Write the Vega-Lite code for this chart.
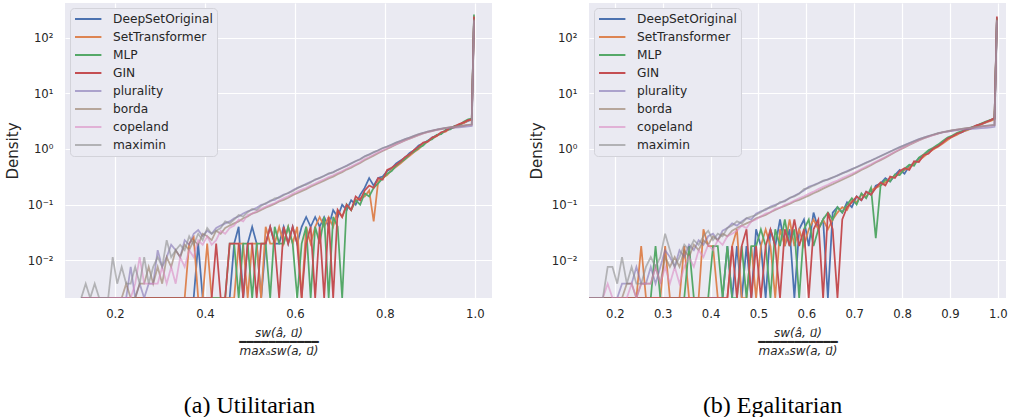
{
"$schema": "https://vega.github.io/schema/vega-lite/v6.json",
"padding": {"left": 5, "top": 3, "right": 0, "bottom": 0},
"spacing": 37,
"datasets": {
"util": [
{"x":0.125,"D":0,"S":0,"M":0,"G":0,"p":0,"b":0,"c":0,"m":0},
{"x":0.135,"D":0,"S":0,"M":0,"G":0,"p":0,"b":0,"c":0,"m":0.0038},
{"x":0.145,"D":0,"S":0,"M":0,"G":0,"p":0,"b":0,"c":0,"m":0},
{"x":0.155,"D":0,"S":0,"M":0,"G":0,"p":0,"b":0,"c":0,"m":0.0038},
{"x":0.165,"D":0,"S":0,"M":0,"G":0,"p":0,"b":0,"c":0,"m":0},
{"x":0.175,"D":0,"S":0,"M":0,"G":0,"p":0,"b":0,"c":0,"m":0},
{"x":0.185,"D":0,"S":0,"M":0,"G":0,"p":0,"b":0,"c":0,"m":0},
{"x":0.195,"D":0,"S":0,"M":0,"G":0,"p":0,"b":0,"c":0,"m":0.0114},
{"x":0.205,"D":0,"S":0,"M":0,"G":0,"p":0,"b":0,"c":0,"m":0.0038},
{"x":0.215,"D":0,"S":0,"M":0,"G":0,"p":0,"b":0,"c":0,"m":0.0076},
{"x":0.225,"D":0,"S":0,"M":0,"G":0,"p":0,"b":0.0038,"c":0,"m":0.0038},
{"x":0.235,"D":0,"S":0,"M":0,"G":0,"p":0.0076,"b":0,"c":0,"m":0.0038},
{"x":0.245,"D":0,"S":0,"M":0,"G":0,"p":0,"b":0,"c":0.0038,"m":0.0076},
{"x":0.255,"D":0,"S":0,"M":0,"G":0,"p":0.0038,"b":0.0038,"c":0.0114,"m":0.0038},
{"x":0.265,"D":0,"S":0,"M":0,"G":0,"p":0,"b":0.0038,"c":0.0038,"m":0.0114},
{"x":0.275,"D":0,"S":0,"M":0,"G":0,"p":0.0038,"b":0.0076,"c":0.0038,"m":0.0038},
{"x":0.285,"D":0,"S":0,"M":0,"G":0,"p":0.0038,"b":0.0038,"c":0.0038,"m":0.0076},
{"x":0.295,"D":0,"S":0,"M":0,"G":0,"p":0.0152,"b":0.0076,"c":0.0038,"m":0.0114},
{"x":0.305,"D":0,"S":0,"M":0,"G":0,"p":0.0076,"b":0.0038,"c":0.0076,"m":0.0076},
{"x":0.315,"D":0,"S":0,"M":0,"G":0,"p":0.0114,"b":0.0114,"c":0.0038,"m":0.023},
{"x":0.325,"D":0,"S":0,"M":0,"G":0,"p":0.019,"b":0.0076,"c":0.0076,"m":0.0114},
{"x":0.335,"D":0,"S":0,"M":0,"G":0,"p":0.0152,"b":0.0152,"c":0.0038,"m":0.0152},
{"x":0.345,"D":0,"S":0,"M":0,"G":0,"p":0.0114,"b":0.0114,"c":0.0114,"m":0.019},
{"x":0.355,"D":0,"S":0,"M":0,"G":0,"p":0.023,"b":0.019,"c":0.0076,"m":0.0152},
{"x":0.365,"D":0,"S":0.02,"M":0,"G":0,"p":0.019,"b":0.0152,"c":0.0152,"m":0.027},
{"x":0.375,"D":0,"S":0.026,"M":0,"G":0,"p":0.03,"b":0.023,"c":0.0114,"m":0.019},
{"x":0.385,"D":0.02,"S":0,"M":0,"G":0,"p":0.035,"b":0.019,"c":0.023,"m":0.03},
{"x":0.395,"D":0,"S":0,"M":0,"G":0,"p":0.027,"b":0.03,"c":0.019,"m":0.023},
{"x":0.405,"D":0,"S":0.02,"M":0,"G":0,"p":0.034,"b":0.027,"c":0.027,"m":0.038},
{"x":0.415,"D":0,"S":0,"M":0,"G":0,"p":0.03,"b":0.023,"c":0.019,"m":0.03},
{"x":0.425,"D":0,"S":0,"M":0,"G":0.02,"p":0.038,"b":0.034,"c":0.023,"m":0.034},
{"x":0.435,"D":0,"S":0,"M":0,"G":0,"p":0.042,"b":0.03,"c":0.034,"m":0.038},
{"x":0.445,"D":0,"S":0,"M":0,"G":0,"p":0.046,"b":0.038,"c":0.03,"m":0.05},
{"x":0.455,"D":0,"S":0,"M":0.02,"G":0.02,"p":0.05,"b":0.042,"c":0.038,"m":0.046},
{"x":0.465,"D":0.02,"S":0,"M":0.02,"G":0.02,"p":0.057,"b":0.046,"c":0.042,"m":0.054},
{"x":0.475,"D":0.04,"S":0.02,"M":0,"G":0.02,"p":0.061,"b":0.05,"c":0.054,"m":0.065},
{"x":0.485,"D":0,"S":0.02,"M":0.02,"G":0,"p":0.069,"b":0.057,"c":0.05,"m":0.061},
{"x":0.495,"D":0.02,"S":0,"M":0.02,"G":0.02,"p":0.076,"b":0.061,"c":0.065,"m":0.073},
{"x":0.505,"D":0.04,"S":0.02,"M":0,"G":0.02,"p":0.08,"b":0.069,"c":0.069,"m":0.084},
{"x":0.515,"D":0.02,"S":0.02,"M":0.02,"G":0,"p":0.088,"b":0.073,"c":0.076,"m":0.08},
{"x":0.525,"D":0,"S":0,"M":0.02,"G":0.02,"p":0.099,"b":0.08,"c":0.084,"m":0.095},
{"x":0.535,"D":0.02,"S":0.04,"M":0.02,"G":0.02,"p":0.103,"b":0.088,"c":0.092,"m":0.107},
{"x":0.545,"D":0.04,"S":0.02,"M":0,"G":0.04,"p":0.118,"b":0.095,"c":0.099,"m":0.114},
{"x":0.555,"D":0.02,"S":0.02,"M":0.04,"G":0.02,"p":0.122,"b":0.103,"c":0.107,"m":0.13},
{"x":0.565,"D":0.02,"S":0.04,"M":0.02,"G":0,"p":0.137,"b":0.114,"c":0.118,"m":0.133},
{"x":0.575,"D":0.04,"S":0.02,"M":0.02,"G":0.04,"p":0.152,"b":0.122,"c":0.13,"m":0.148},
{"x":0.585,"D":0.02,"S":0.04,"M":0.04,"G":0.02,"p":0.16,"b":0.133,"c":0.141,"m":0.163},
{"x":0.595,"D":0.04,"S":0.02,"M":0.02,"G":0.04,"p":0.182,"b":0.148,"c":0.156,"m":0.175},
{"x":0.605,"D":0.02,"S":0.04,"M":0,"G":0.02,"p":0.2,"b":0.16,"c":0.171,"m":0.194},
{"x":0.615,"D":0.04,"S":0,"M":0.02,"G":0,"p":0.213,"b":0.175,"c":0.186,"m":0.217},
{"x":0.625,"D":0.06,"S":0.04,"M":0.04,"G":0.02,"p":0.236,"b":0.19,"c":0.2,"m":0.228},
{"x":0.635,"D":0.04,"S":0.02,"M":0,"G":0.04,"p":0.258,"b":0.209,"c":0.221,"m":0.251},
{"x":0.645,"D":0.06,"S":0.04,"M":0.04,"G":0,"p":0.277,"b":0.228,"c":0.24,"m":0.285},
{"x":0.655,"D":0.04,"S":0.06,"M":0.02,"G":0.04,"p":0.304,"b":0.247,"c":0.262,"m":0.3},
{"x":0.665,"D":0.06,"S":0.04,"M":0.06,"G":0,"p":0.331,"b":0.27,"c":0.285,"m":0.327},
{"x":0.675,"D":0.04,"S":0.06,"M":0,"G":0.06,"p":0.357,"b":0.296,"c":0.312,"m":0.365},
{"x":0.685,"D":0.08,"S":0.04,"M":0.06,"G":0,"p":0.384,"b":0.319,"c":0.338,"m":0.38},
{"x":0.695,"D":0.06,"S":0.08,"M":0.04,"G":0.08,"p":0.422,"b":0.353,"c":0.369,"m":0.418},
{"x":0.705,"D":0.1,"S":0.06,"M":0,"G":0.06,"p":0.46,"b":0.384,"c":0.403,"m":0.456},
{"x":0.715,"D":0.08,"S":0.1,"M":0.1,"G":0.1,"p":0.502,"b":0.426,"c":0.441,"m":0.494},
{"x":0.725,"D":0.12,"S":0.08,"M":0.08,"G":0.08,"p":0.551,"b":0.46,"c":0.486,"m":0.547},
{"x":0.735,"D":0.1,"S":0.12,"M":0.12,"G":0.14,"p":0.6,"b":0.509,"c":0.532,"m":0.608},
{"x":0.745,"D":0.15,"S":0.13,"M":0.1,"G":0.12,"p":0.66,"b":0.562,"c":0.585,"m":0.646},
{"x":0.755,"D":0.2,"S":0.14,"M":0.16,"G":0.18,"p":0.74,"b":0.63,"c":0.66,"m":0.73},
{"x":0.765,"D":0.3,"S":0.18,"M":0.14,"G":0.22,"p":0.8,"b":0.69,"c":0.72,"m":0.79},
{"x":0.775,"D":0.22,"S":0.05,"M":0.2,"G":0.2,"p":0.87,"b":0.76,"c":0.79,"m":0.88},
{"x":0.785,"D":0.3,"S":0.26,"M":0.24,"G":0.3,"p":0.95,"b":0.84,"c":0.87,"m":0.94},
{"x":0.795,"D":0.32,"S":0.3,"M":0.3,"G":0.28,"p":1.03,"b":0.92,"c":0.95,"m":1.04},
{"x":0.805,"D":0.4,"S":0.34,"M":0.36,"G":0.42,"p":1.11,"b":1.0,"c":1.03,"m":1.1},
{"x":0.815,"D":0.45,"S":0.42,"M":0.4,"G":0.46,"p":1.2,"b":1.1,"c":1.12,"m":1.19},
{"x":0.825,"D":0.55,"S":0.48,"M":0.5,"G":0.52,"p":1.3,"b":1.2,"c":1.22,"m":1.3},
{"x":0.835,"D":0.62,"S":0.55,"M":0.58,"G":0.6,"p":1.4,"b":1.31,"c":1.33,"m":1.39},
{"x":0.845,"D":0.7,"S":0.65,"M":0.66,"G":0.72,"p":1.5,"b":1.42,"c":1.44,"m":1.5},
{"x":0.855,"D":0.85,"S":0.75,"M":0.8,"G":0.8,"p":1.61,"b":1.53,"c":1.55,"m":1.6},
{"x":0.865,"D":0.95,"S":0.88,"M":0.9,"G":0.96,"p":1.73,"b":1.65,"c":1.67,"m":1.72},
{"x":0.875,"D":1.15,"S":1.0,"M":1.05,"G":1.1,"p":1.84,"b":1.77,"c":1.79,"m":1.85},
{"x":0.885,"D":1.25,"S":1.2,"M":1.15,"G":1.3,"p":1.95,"b":1.9,"c":1.91,"m":1.94},
{"x":0.895,"D":1.4,"S":1.35,"M":1.4,"G":1.35,"p":2.05,"b":2.0,"c":2.02,"m":2.06},
{"x":0.905,"D":1.6,"S":1.55,"M":1.5,"G":1.6,"p":2.14,"b":2.1,"c":2.12,"m":2.15},
{"x":0.915,"D":1.75,"S":1.7,"M":1.8,"G":1.72,"p":2.22,"b":2.2,"c":2.21,"m":2.24},
{"x":0.925,"D":1.9,"S":1.95,"M":1.85,"G":2.0,"p":2.3,"b":2.28,"c":2.3,"m":2.32},
{"x":0.935,"D":2.15,"S":2.05,"M":2.2,"G":2.1,"p":2.36,"b":2.36,"c":2.37,"m":2.4},
{"x":0.945,"D":2.3,"S":2.35,"M":2.25,"G":2.4,"p":2.4,"b":2.44,"c":2.44,"m":2.46},
{"x":0.955,"D":2.5,"S":2.45,"M":2.6,"G":2.55,"p":2.42,"b":2.5,"c":2.5,"m":2.52},
{"x":0.965,"D":2.7,"S":2.75,"M":2.65,"G":2.8,"p":2.45,"b":2.56,"c":2.56,"m":2.58},
{"x":0.975,"D":2.95,"S":2.9,"M":3.1,"G":3.0,"p":2.5,"b":2.62,"c":2.62,"m":2.64},
{"x":0.985,"D":3.2,"S":3.25,"M":3.4,"G":3.3,"p":2.55,"b":2.7,"c":2.68,"m":2.7},
{"x":0.993,"D":3.4,"S":3.3,"M":3.5,"G":3.4,"p":2.6,"b":2.75,"c":2.72,"m":2.76},
{"x":0.998,"D":230,"S":220,"M":260,"G":240,"p":200,"b":210,"c":205,"m":215}
],
"egal": [
{"x":0.145,"D":0,"S":0,"M":0,"G":0,"p":0,"b":0,"c":0,"m":0},
{"x":0.155,"D":0,"S":0,"M":0,"G":0,"p":0,"b":0,"c":0,"m":0},
{"x":0.165,"D":0,"S":0,"M":0,"G":0,"p":0,"b":0,"c":0,"m":0},
{"x":0.175,"D":0,"S":0,"M":0,"G":0,"p":0,"b":0,"c":0,"m":0},
{"x":0.185,"D":0,"S":0,"M":0,"G":0,"p":0,"b":0,"c":0.0038,"m":0.0076},
{"x":0.195,"D":0,"S":0,"M":0,"G":0,"p":0,"b":0,"c":0,"m":0.0076},
{"x":0.205,"D":0,"S":0,"M":0,"G":0,"p":0,"b":0,"c":0,"m":0.0038},
{"x":0.215,"D":0,"S":0,"M":0,"G":0,"p":0.0038,"b":0,"c":0,"m":0.0114},
{"x":0.225,"D":0,"S":0,"M":0,"G":0,"p":0.0038,"b":0.0038,"c":0,"m":0.0038},
{"x":0.235,"D":0,"S":0,"M":0,"G":0,"p":0.0038,"b":0.0038,"c":0.0038,"m":0.0076},
{"x":0.245,"D":0,"S":0,"M":0,"G":0,"p":0.0076,"b":0,"c":0,"m":0.0038},
{"x":0.255,"D":0,"S":0.018,"M":0,"G":0,"p":0.0038,"b":0.0038,"c":0.0038,"m":0.0038},
{"x":0.265,"D":0,"S":0,"M":0,"G":0,"p":0.0038,"b":0.0038,"c":0.0038,"m":0.0076},
{"x":0.275,"D":0,"S":0,"M":0,"G":0,"p":0.0076,"b":0.0038,"c":0.0038,"m":0.0114},
{"x":0.285,"D":0,"S":0,"M":0.018,"G":0,"p":0.0038,"b":0.0076,"c":0.0076,"m":0.0076},
{"x":0.295,"D":0,"S":0,"M":0,"G":0,"p":0.0076,"b":0.0038,"c":0.0038,"m":0.0114},
{"x":0.305,"D":0,"S":0.018,"M":0,"G":0,"p":0.0152,"b":0.0114,"c":0.0076,"m":0.03},
{"x":0.315,"D":0,"S":0,"M":0,"G":0,"p":0.0114,"b":0.0076,"c":0.0038,"m":0.0152},
{"x":0.325,"D":0,"S":0,"M":0,"G":0,"p":0.0076,"b":0.0114,"c":0.0076,"m":0.0076},
{"x":0.335,"D":0,"S":0,"M":0,"G":0,"p":0.0152,"b":0.0076,"c":0.0038,"m":0.0114},
{"x":0.345,"D":0,"S":0.018,"M":0,"G":0,"p":0.0114,"b":0.0152,"c":0.0076,"m":0.019},
{"x":0.355,"D":0,"S":0,"M":0.018,"G":0,"p":0.019,"b":0.0114,"c":0.0114,"m":0.0152},
{"x":0.365,"D":0,"S":0,"M":0,"G":0,"p":0.0152,"b":0.019,"c":0.0076,"m":0.023},
{"x":0.375,"D":0,"S":0,"M":0,"G":0,"p":0.023,"b":0.0152,"c":0.0152,"m":0.019},
{"x":0.385,"D":0,"S":0.036,"M":0,"G":0,"p":0.019,"b":0.023,"c":0.0114,"m":0.027},
{"x":0.395,"D":0,"S":0.018,"M":0,"G":0,"p":0.027,"b":0.019,"c":0.019,"m":0.034},
{"x":0.405,"D":0,"S":0.018,"M":0.018,"G":0,"p":0.03,"b":0.027,"c":0.0152,"m":0.023},
{"x":0.415,"D":0,"S":0,"M":0.018,"G":0,"p":0.023,"b":0.023,"c":0.023,"m":0.03},
{"x":0.425,"D":0,"S":0,"M":0,"G":0,"p":0.034,"b":0.03,"c":0.019,"m":0.027},
{"x":0.435,"D":0.018,"S":0,"M":0.018,"G":0,"p":0.038,"b":0.027,"c":0.027,"m":0.038},
{"x":0.445,"D":0,"S":0.018,"M":0,"G":0.018,"p":0.046,"b":0.034,"c":0.03,"m":0.042},
{"x":0.455,"D":0.018,"S":0.036,"M":0,"G":0,"p":0.042,"b":0.038,"c":0.034,"m":0.05},
{"x":0.465,"D":0,"S":0,"M":0.018,"G":0.018,"p":0.05,"b":0.042,"c":0.042,"m":0.046},
{"x":0.475,"D":0.018,"S":0,"M":0,"G":0.036,"p":0.057,"b":0.046,"c":0.038,"m":0.057},
{"x":0.485,"D":0,"S":0.018,"M":0.018,"G":0,"p":0.054,"b":0.05,"c":0.05,"m":0.061},
{"x":0.495,"D":0.036,"S":0,"M":0.018,"G":0.018,"p":0.069,"b":0.057,"c":0.054,"m":0.065},
{"x":0.505,"D":0.018,"S":0.018,"M":0.036,"G":0,"p":0.076,"b":0.061,"c":0.061,"m":0.073},
{"x":0.515,"D":0,"S":0.036,"M":0.018,"G":0.018,"p":0.08,"b":0.065,"c":0.069,"m":0.084},
{"x":0.525,"D":0.036,"S":0.018,"M":0,"G":0.036,"p":0.092,"b":0.073,"c":0.073,"m":0.088},
{"x":0.535,"D":0.018,"S":0,"M":0.036,"G":0.018,"p":0.099,"b":0.08,"c":0.084,"m":0.095},
{"x":0.545,"D":0.054,"S":0.036,"M":0.018,"G":0,"p":0.107,"b":0.088,"c":0.088,"m":0.111},
{"x":0.555,"D":0.018,"S":0.018,"M":0.054,"G":0.036,"p":0.118,"b":0.095,"c":0.099,"m":0.114},
{"x":0.565,"D":0.036,"S":0.054,"M":0.018,"G":0.018,"p":0.13,"b":0.103,"c":0.107,"m":0.133},
{"x":0.575,"D":0,"S":0.018,"M":0.036,"G":0.054,"p":0.145,"b":0.114,"c":0.118,"m":0.141},
{"x":0.585,"D":0.036,"S":0.036,"M":0,"G":0.018,"p":0.16,"b":0.122,"c":0.13,"m":0.156},
{"x":0.595,"D":0.054,"S":0.018,"M":0.036,"G":0.036,"p":0.18,"b":0.133,"c":0.141,"m":0.19},
{"x":0.605,"D":0.018,"S":0.036,"M":0.054,"G":0,"p":0.21,"b":0.145,"c":0.156,"m":0.2},
{"x":0.615,"D":0.072,"S":0.054,"M":0.018,"G":0.036,"p":0.225,"b":0.16,"c":0.171,"m":0.22},
{"x":0.625,"D":0.036,"S":0.036,"M":0.036,"G":0.054,"p":0.245,"b":0.175,"c":0.19,"m":0.24},
{"x":0.635,"D":0.054,"S":0.054,"M":0.054,"G":0,"p":0.265,"b":0.194,"c":0.209,"m":0.27},
{"x":0.645,"D":0,"S":0.036,"M":0.072,"G":0.072,"p":0.285,"b":0.213,"c":0.228,"m":0.282},
{"x":0.655,"D":0.072,"S":0.054,"M":0.054,"G":0.036,"p":0.305,"b":0.232,"c":0.251,"m":0.31},
{"x":0.665,"D":0.09,"S":0.072,"M":0.09,"G":0,"p":0.335,"b":0.255,"c":0.27,"m":0.33},
{"x":0.675,"D":0.072,"S":0.09,"M":0.072,"G":0.054,"p":0.365,"b":0.281,"c":0.3,"m":0.368},
{"x":0.685,"D":0.11,"S":0.08,"M":0.1,"G":0.09,"p":0.4,"b":0.308,"c":0.327,"m":0.39},
{"x":0.695,"D":0.09,"S":0.12,"M":0.13,"G":0.11,"p":0.435,"b":0.338,"c":0.357,"m":0.43},
{"x":0.705,"D":0.14,"S":0.11,"M":0.1,"G":0.14,"p":0.475,"b":0.376,"c":0.395,"m":0.47},
{"x":0.715,"D":0.12,"S":0.15,"M":0.16,"G":0.12,"p":0.52,"b":0.418,"c":0.437,"m":0.513},
{"x":0.725,"D":0.17,"S":0.14,"M":0.13,"G":0.17,"p":0.57,"b":0.46,"c":0.486,"m":0.562},
{"x":0.735,"D":0.15,"S":0.18,"M":0.2,"G":0.15,"p":0.62,"b":0.51,"c":0.532,"m":0.616},
{"x":0.745,"D":0.22,"S":0.2,"M":0.025,"G":0.2,"p":0.68,"b":0.57,"c":0.59,"m":0.673},
{"x":0.755,"D":0.24,"S":0.22,"M":0.22,"G":0.25,"p":0.75,"b":0.63,"c":0.65,"m":0.74},
{"x":0.765,"D":0.3,"S":0.25,"M":0.28,"G":0.22,"p":0.82,"b":0.7,"c":0.72,"m":0.81},
{"x":0.775,"D":0.26,"S":0.3,"M":0.26,"G":0.32,"p":0.9,"b":0.78,"c":0.8,"m":0.89},
{"x":0.785,"D":0.34,"S":0.32,"M":0.35,"G":0.3,"p":0.99,"b":0.87,"c":0.89,"m":0.98},
{"x":0.795,"D":0.42,"S":0.36,"M":0.34,"G":0.4,"p":1.08,"b":0.97,"c":0.99,"m":1.07},
{"x":0.805,"D":0.36,"S":0.42,"M":0.44,"G":0.45,"p":1.18,"b":1.07,"c":1.09,"m":1.16},
{"x":0.815,"D":0.5,"S":0.46,"M":0.52,"G":0.42,"p":1.28,"b":1.18,"c":1.2,"m":1.27},
{"x":0.825,"D":0.55,"S":0.55,"M":0.5,"G":0.6,"p":1.39,"b":1.3,"c":1.32,"m":1.38},
{"x":0.835,"D":0.68,"S":0.62,"M":0.7,"G":0.58,"p":1.5,"b":1.42,"c":1.44,"m":1.49},
{"x":0.845,"D":0.75,"S":0.72,"M":0.8,"G":0.78,"p":1.6,"b":1.54,"c":1.56,"m":1.6},
{"x":0.855,"D":0.9,"S":0.85,"M":0.95,"G":0.82,"p":1.7,"b":1.66,"c":1.67,"m":1.71},
{"x":0.865,"D":1.0,"S":0.98,"M":1.05,"G":1.02,"p":1.8,"b":1.78,"c":1.78,"m":1.82},
{"x":0.875,"D":1.15,"S":1.1,"M":1.2,"G":1.12,"p":1.9,"b":1.89,"c":1.9,"m":1.92},
{"x":0.885,"D":1.35,"S":1.25,"M":1.4,"G":1.3,"p":1.98,"b":2.0,"c":2.0,"m":2.02},
{"x":0.895,"D":1.5,"S":1.45,"M":1.6,"G":1.55,"p":2.06,"b":2.08,"c":2.08,"m":2.1},
{"x":0.905,"D":1.7,"S":1.65,"M":1.75,"G":1.68,"p":2.12,"b":2.16,"c":2.16,"m":2.18},
{"x":0.915,"D":1.85,"S":1.8,"M":1.95,"G":1.9,"p":2.18,"b":2.23,"c":2.22,"m":2.24},
{"x":0.925,"D":2.0,"S":2.05,"M":2.1,"G":2.0,"p":2.22,"b":2.3,"c":2.28,"m":2.3},
{"x":0.935,"D":2.2,"S":2.15,"M":2.25,"G":2.3,"p":2.26,"b":2.36,"c":2.34,"m":2.36},
{"x":0.945,"D":2.4,"S":2.35,"M":2.45,"G":2.4,"p":2.3,"b":2.42,"c":2.4,"m":2.42},
{"x":0.955,"D":2.6,"S":2.55,"M":2.6,"G":2.65,"p":2.33,"b":2.48,"c":2.46,"m":2.48},
{"x":0.965,"D":2.8,"S":2.75,"M":2.85,"G":2.8,"p":2.36,"b":2.54,"c":2.52,"m":2.54},
{"x":0.975,"D":3.0,"S":3.0,"M":3.1,"G":3.05,"p":2.4,"b":2.6,"c":2.58,"m":2.6},
{"x":0.985,"D":3.3,"S":3.2,"M":3.35,"G":3.3,"p":2.45,"b":2.66,"c":2.64,"m":2.65},
{"x":0.993,"D":3.5,"S":3.4,"M":3.5,"G":3.6,"p":2.5,"b":2.7,"c":2.68,"m":2.7},
{"x":0.998,"D":230,"S":220,"M":210,"G":240,"p":200,"b":220,"c":205,"m":210}
]
},
"hconcat": [
{
"width": 427, "height": 295,
"data": {"name": "util"},
"transform": [{"fold": ["D","S","M","G","p","b","c","m"], "as": ["k","v"]}],
"mark": {"type": "line", "strokeWidth": 1.75, "clip": true, "invalid": "show"},
"encoding": {
"x": {"field": "x", "type": "quantitative", "scale": {"domain": [0.089, 1.038], "nice": false, "zero": false},
 "axis": {"values": [0.2,0.4,0.6,0.8,1.0], "format": ".1f", "title": ["sw(â, u⃗)", "━━━━━━━━━━━", "maxₐsw(a, u⃗)"]}},
"y": {"field": "v", "type": "quantitative", "scale": {"type": "log", "domain": [0.0021, 420], "nice": false, "clamp": true},
 "axis": {"values": [0.01,0.1,1,10,100], "title": "Density", "labelExpr": "datum.value >= 50 ? '10²' : datum.value >= 5 ? '10¹' : datum.value >= 0.5 ? '10⁰' : datum.value >= 0.05 ? '10⁻¹' : '10⁻²'"}},
"color": {"field": "k", "type": "nominal", "scale": {"domain": ["D","S","M","G","p","b","c","m"], "range": ["#4C72B0","#DD8452","#55A868","#C44E52","rgba(129,114,179,0.6)","rgba(147,120,96,0.6)","rgba(218,139,195,0.6)","rgba(140,140,140,0.6)"]},
 "legend": {"title": null, "labelExpr": "datum.label == 'D' ? 'DeepSetOriginal' : datum.label == 'S' ? 'SetTransformer' : datum.label == 'M' ? 'MLP' : datum.label == 'G' ? 'GIN' : datum.label == 'p' ? 'plurality' : datum.label == 'b' ? 'borda' : datum.label == 'c' ? 'copeland' : 'maximin'"}}
},
"title": {"text": "(a) Utilitarian", "orient": "bottom", "offset": 37, "dx": -29}
},
{
"width": 417, "height": 295,
"data": {"name": "egal"},
"transform": [{"fold": ["D","S","M","G","p","b","c","m"], "as": ["k","v"]}],
"mark": {"type": "line", "strokeWidth": 1.75, "clip": true, "invalid": "show"},
"encoding": {
"x": {"field": "x", "type": "quantitative", "scale": {"domain": [0.146, 1.017], "nice": false, "zero": false},
 "axis": {"values": [0.2,0.3,0.4,0.5,0.6,0.7,0.8,0.9,1.0], "format": ".1f", "title": ["sw(â, u⃗)", "━━━━━━━━━━━", "maxₐsw(a, u⃗)"]}},
"y": {"field": "v", "type": "quantitative", "scale": {"type": "log", "domain": [0.0021, 420], "nice": false, "clamp": true},
 "axis": {"values": [0.01,0.1,1,10,100], "title": "Density", "labelExpr": "datum.value >= 50 ? '10²' : datum.value >= 5 ? '10¹' : datum.value >= 0.5 ? '10⁰' : datum.value >= 0.05 ? '10⁻¹' : '10⁻²'"}},
"color": {"field": "k", "type": "nominal", "scale": {"domain": ["D","S","M","G","p","b","c","m"], "range": ["#4C72B0","#DD8452","#55A868","#C44E52","rgba(129,114,179,0.6)","rgba(147,120,96,0.6)","rgba(218,139,195,0.6)","rgba(140,140,140,0.6)"]},
 "legend": {"title": null, "labelExpr": "datum.label == 'D' ? 'DeepSetOriginal' : datum.label == 'S' ? 'SetTransformer' : datum.label == 'M' ? 'MLP' : datum.label == 'G' ? 'GIN' : datum.label == 'p' ? 'plurality' : datum.label == 'b' ? 'borda' : datum.label == 'c' ? 'copeland' : 'maximin'"}}
},
"title": {"text": "(b) Egalitarian", "orient": "bottom", "offset": 37, "dx": -25}
}
],
"resolve": {"scale": {"x": "independent", "y": "independent", "color": "independent"}, "legend": {"color": "independent"}},
"config": {
"background": "white",
"view": {"fill": "#EAEAF2", "stroke": null},
"axis": {"grid": true, "gridColor": "white", "gridWidth": 1.2, "domain": false, "ticks": false, "labelFont": "DejaVu Sans", "labelFontSize": 11.7, "labelColor": "#262626", "titleFont": "DejaVu Sans", "titleColor": "#262626", "titleFontWeight": "normal"},
"axisX": {"labelPadding": 10, "titleFontSize": 12, "titleFontStyle": "italic", "titleLineHeight": 9, "titlePadding": 8},
"axisY": {"labelPadding": 12, "titleFontSize": 15, "titlePadding": 7},
"legend": {"orient": "top-left", "offset": 5, "fillColor": "#EAEAF2", "strokeColor": "#D3D3DA", "cornerRadius": 4, "padding": 4, "labelFont": "DejaVu Sans", "labelFontSize": 12.2, "labelColor": "#262626", "symbolType": "M-1,0H3.4", "symbolStrokeWidth": 2, "symbolSize": 144, "labelOffset": 25, "rowPadding": 4},
"title": {"font": "Liberation Serif", "fontSize": 24, "fontWeight": "normal", "color": "black", "anchor": "middle"}
}
}
